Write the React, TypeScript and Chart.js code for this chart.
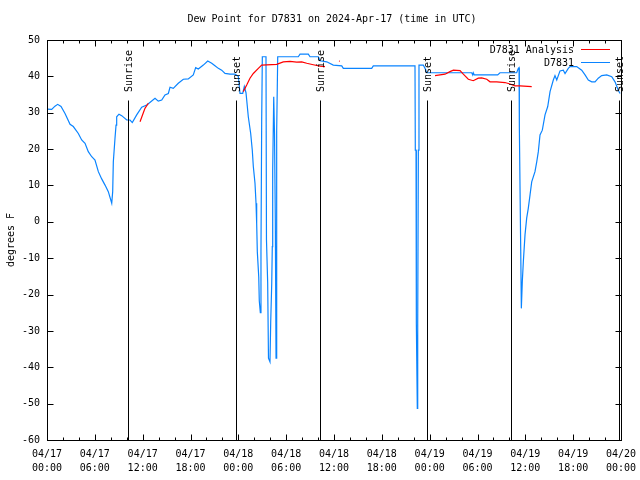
import React, { useEffect, useRef } from "react";
import { Chart, registerables } from "chart.js";

Chart.register(...registerables);

const TITLE = "Dew Point for D7831 on 2024-Apr-17 (time in UTC)";
const Y_LABEL = "degrees F";
const SERIES_ANALYSIS = "D7831 Analysis";
const SERIES_OBS = "D7831";

// hours since 04/17 00:00 UTC
const xTickHours = [0, 6, 12, 18, 24, 30, 36, 42, 48, 54, 60, 66, 72];
const xTickDates = ["04/17", "04/17", "04/17", "04/17", "04/18", "04/18", "04/18", "04/18", "04/19", "04/19", "04/19", "04/19", "04/20"];
const xTickTimes = ["00:00", "06:00", "12:00", "18:00", "00:00", "06:00", "12:00", "18:00", "00:00", "06:00", "12:00", "18:00", "00:00"];
const yTicks = [50, 40, 30, 20, 10, 0, -10, -20, -30, -40, -50, -60];

const sunHours = [10.2, 23.67, 34.28, 47.7, 58.24, 71.71];
const sunLabels = ["Sunrise", "Sunset", "Sunrise", "Sunset", "Sunrise", "Sunset"];
const sunLineTopValue = 33.5;

const blueHours = [
  0.0, 0.59, 1.0, 1.34, 1.76, 2.26, 2.89, 3.3, 3.93, 4.35, 4.77, 5.18, 5.61, 6.02, 6.44, 6.86, 7.28, 7.69, 8.12, 8.24,
  8.32, 8.53, 8.66, 8.74, 9.03, 9.37, 10.0, 10.41, 10.7, 11.25, 11.88, 12.51, 12.79, 13.55, 13.96, 14.39, 14.8, 15.22, 15.43, 15.84,
  16.47, 17.1, 17.72, 18.35, 18.65, 18.98, 19.61, 20.16, 20.66, 21.07, 21.49, 21.91, 22.33, 22.96, 23.58, 24.0, 24.21, 24.55, 24.75, 24.96,
  25.05, 25.25, 25.55, 25.75, 25.88, 26.09, 26.22, 26.3, 26.38, 26.56, 26.63, 26.76, 26.84, 26.93, 27.01, 27.47, 27.53, 27.68, 27.78, 27.97,
  28.06, 28.19, 28.26, 28.31, 28.44, 28.54, 28.64, 28.73, 28.81, 28.94, 31.52, 31.74, 32.78, 32.99, 34.03, 34.25, 35.09, 35.91, 36.97, 37.17,
  40.73, 40.93, 46.16, 46.2, 46.29, 46.33, 46.45, 46.5, 46.58, 46.66, 47.2, 47.42, 47.63, 53.27, 53.4, 53.47, 53.6, 56.53, 56.82, 58.92,
  59.12, 59.21, 59.25, 59.42, 59.5, 59.62, 59.75, 59.96, 60.17, 60.37, 60.59, 60.8, 61.21, 61.43, 61.63, 61.84, 62.13, 62.47, 62.81, 63.1,
  63.51, 63.72, 63.94, 64.35, 64.76, 64.98, 65.39, 65.6, 66.44, 67.07, 67.49, 67.9, 68.33, 68.74, 69.15, 69.58, 70.21, 70.84, 71.25, 71.66,
  71.88,
];
const blueValues = [
  31.0, 30.9, 31.8, 32.3, 31.7, 29.8, 26.8, 26.2, 24.3, 22.5, 21.6, 19.3, 17.9, 17.0, 13.8, 11.8, 10.1, 8.3, 5.1, 8.3,
  16.5, 23.0, 26.6, 28.9, 29.6, 29.2, 28.0, 28.0, 27.3, 29.4, 31.5, 32.1, 32.6, 34.0, 33.2, 33.5, 34.9, 35.3, 37.0, 36.7,
  38.1, 39.2, 39.3, 40.4, 42.4, 42.0, 43.1, 44.2, 43.6, 42.9, 42.2, 41.7, 40.8, 40.6, 40.6, 40.0, 35.3, 35.3, 37.2, 35.5,
  33.5, 28.9, 24.3, 19.7, 15.2, 10.6, 5.1, -0.4, -8.2, -15.1, -21.8, -25.0, -8.0, 28.0, 45.4, 45.4, -5.0, -16.7, -37.5, -38.5,
  -27.7, -16.9, -6.8, 14.0, 34.4, 24.0, 0.0, -37.5, 25.0, 45.4, 45.4, 46.1, 46.1, 45.4, 45.4, 44.3, 44.0, 43.1, 42.9, 42.2,
  42.2, 42.9, 42.9, 19.7, 19.7, -27.9, -51.3, -27.9, 19.7, 43.1, 43.1, 42.2, 41.0, 41.0, 40.4, 41.0, 40.4, 40.4, 41.0, 41.0,
  42.2, 42.4, 25.9, -7.3, -23.8, -16.5, -11.0, -3.6, 1.0, 3.7, 7.4, 11.0, 13.8, 16.5, 19.3, 23.9, 25.2, 29.4, 31.7, 35.8,
  39.0, 40.2, 39.0, 41.5, 41.7, 40.8, 42.2, 42.7, 42.7, 41.7, 40.4, 39.0, 38.5, 38.5, 39.5, 40.2, 40.4, 39.9, 38.5, 36.2,
  35.3,
];

const redHours = [
  11.67, 12.29, 12.71, 13.0,
  24.62, 25.05, 25.46, 25.88, 26.51, 26.93, 28.81, 29.64, 30.48, 31.32, 31.95, 32.58, 33.4, 34.25, 34.87, 35.0,
  36.62, 36.72, 37.0,
  48.67, 49.3, 49.92, 50.55, 50.97, 51.81, 52.22, 52.85, 53.47, 54.1, 54.53, 55.16, 55.57, 56.41, 57.45, 58.08, 58.7, 59.33, 60.8,
];
const redValues: (number | null)[] = [
  27.5, 31.2, 32.6, null,
  35.8, 37.6, 39.5, 40.8, 42.2, 43.1, 43.3, 44.0, 44.1, 43.9, 44.0, 43.6, 43.2, 42.8, 42.7, null,
  44.2, 44.2, null,
  40.2, 40.4, 40.6, 41.3, 41.7, 41.6, 40.6, 39.2, 38.8, 39.5, 39.6, 39.2, 38.5, 38.5, 38.3, 37.9, 37.4, 37.4, 37.2,
];

const BLUE = "#0a84ff";
const RED = "#ff0000";
const FONT = "DejaVu Sans Mono";

const overlayPlugin = {
  id: "gnuplotOverlay",
  afterDatasetsDraw(chart: any) {
    const { ctx, chartArea: a, scales } = chart;
    const xs = scales.x;
    const ys = scales.y;
    ctx.save();
    ctx.strokeStyle = "#000";
    ctx.lineWidth = 1;
    const topY = Math.round(ys.getPixelForValue(sunLineTopValue)) + 0.5;
    sunHours.forEach((h) => {
      const px = Math.round(xs.getPixelForValue(h)) + 0.5;
      ctx.beginPath();
      ctx.moveTo(px, topY);
      ctx.lineTo(px, a.bottom);
      ctx.stroke();
    });
    const L = Math.round(a.left) + 0.5;
    const R = Math.round(a.right) + 0.5;
    const T = Math.round(a.top) + 0.5;
    const B = Math.round(a.bottom) + 0.5;
    ctx.strokeRect(L, T, R - L, B - T);
    yTicks.forEach((v) => {
      const py = Math.round(ys.getPixelForValue(v)) + 0.5;
      ctx.beginPath();
      ctx.moveTo(L, py);
      ctx.lineTo(L + 6, py);
      ctx.moveTo(R, py);
      ctx.lineTo(R - 6, py);
      ctx.stroke();
    });
    for (let h = 0; h <= 72; h += 2) {
      const px = Math.round(xs.getPixelForValue(h)) + 0.5;
      const len = h % 6 === 0 ? 6 : 3;
      ctx.beginPath();
      ctx.moveTo(px, B);
      ctx.lineTo(px, B - len);
      ctx.moveTo(px, T);
      ctx.lineTo(px, T + len);
      ctx.stroke();
    }
    ctx.restore();
  },
  afterDraw(chart: any) {
    const { ctx, chartArea: a, scales } = chart;
    const xs = scales.x;
    const ys = scales.y;
    ctx.save();
    ctx.fillStyle = "#000";
    ctx.font = `10px "${FONT}"`;
    const topY = ys.getPixelForValue(sunLineTopValue);
    sunHours.forEach((h, i) => {
      const px = Math.round(xs.getPixelForValue(h)) + 1;
      ctx.save();
      ctx.translate(px, topY - 8);
      ctx.rotate(-Math.PI / 2);
      ctx.textAlign = "left";
      ctx.textBaseline = "middle";
      ctx.fillText(sunLabels[i], 0, 0);
      ctx.restore();
    });
    ctx.textAlign = "center";
    ctx.textBaseline = "middle";
    ctx.fillText(TITLE, (a.left + a.right) / 2 - 2, 19);
    ctx.save();
    ctx.translate(11, (a.top + a.bottom) / 2);
    ctx.rotate(-Math.PI / 2);
    ctx.textAlign = "center";
    ctx.textBaseline = "middle";
    ctx.fillText(Y_LABEL, 0, 0);
    ctx.restore();
    ctx.textAlign = "right";
    ctx.textBaseline = "middle";
    ctx.fillText(SERIES_ANALYSIS, 574, 50);
    ctx.fillText(SERIES_OBS, 574, 63);
    ctx.lineWidth = 1;
    ctx.strokeStyle = RED;
    ctx.beginPath();
    ctx.moveTo(581, 49.5);
    ctx.lineTo(610, 49.5);
    ctx.stroke();
    ctx.strokeStyle = BLUE;
    ctx.beginPath();
    ctx.moveTo(581, 62.5);
    ctx.lineTo(610, 62.5);
    ctx.stroke();
    ctx.restore();
  },
};

export default function App() {
  const ref = useRef<HTMLCanvasElement | null>(null);
  useEffect(() => {
    if (!ref.current) return;
    const blueData = blueHours.map((h, i) => ({ x: h, y: blueValues[i] }));
    const redData = redHours.map((h, i) => ({ x: h, y: redValues[i] }));
    const chart = new Chart(ref.current, {
      type: "line",
      data: {
        datasets: [
          {
            label: SERIES_ANALYSIS,
            data: redData as any,
            borderColor: RED,
            borderWidth: 1.2,
            pointRadius: 0,
            tension: 0,
            spanGaps: false,
          },
          {
            label: SERIES_OBS,
            data: blueData,
            borderColor: BLUE,
            borderWidth: 1.2,
            pointRadius: 0,
            tension: 0,
          },
        ],
      },
      options: {
        responsive: false,
        animation: false,
        layout: { padding: { left: 0, right: 19, top: 40, bottom: 0 } },
        plugins: { legend: { display: false }, title: { display: false }, tooltip: { enabled: false } },
        scales: {
          x: {
            type: "linear",
            min: 0,
            max: 72,
            grid: { display: false, drawTicks: false },
            border: { display: false },
            afterBuildTicks: (scale: any) => {
              scale.ticks = xTickHours.map((v) => ({ value: v }));
            },
            afterFit: (scale: any) => {
              scale.height = 40;
              scale.paddingLeft = 0;
              scale.paddingRight = 0;
            },
            ticks: {
              autoSkip: false,
              maxRotation: 0,
              minRotation: 0,
              padding: 7,
              color: "#000",
              font: { family: FONT, size: 10, lineHeight: 1.4 },
              callback: (_v: any, idx: number) => [xTickDates[idx], xTickTimes[idx]],
            },
          },
          y: {
            type: "linear",
            min: -60,
            max: 50,
            grid: { display: false, drawTicks: false },
            border: { display: false },
            afterBuildTicks: (scale: any) => {
              scale.ticks = yTicks.map((v) => ({ value: v }));
            },
            afterFit: (scale: any) => {
              scale.width = 47;
              scale.paddingTop = 0;
              scale.paddingBottom = 0;
            },
            ticks: {
              padding: 7,
              color: "#000",
              font: { family: FONT, size: 10 },
            },
          },
        },
      },
      plugins: [overlayPlugin],
    });
    return () => chart.destroy();
  }, []);
  return (
    <div style={{ position: "absolute", left: 0, top: 0, width: 640, height: 480, background: "#fff" }}>
      <canvas ref={ref} width={640} height={480} />
    </div>
  );
}
